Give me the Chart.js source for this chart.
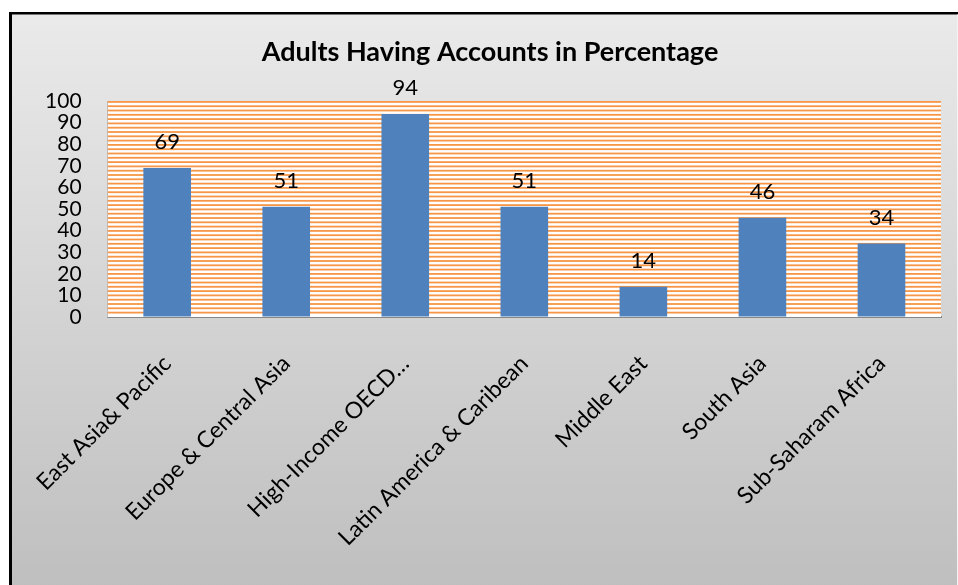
<!DOCTYPE html>
<html>
<head>
<meta charset="utf-8">
<title>Adults Having Accounts in Percentage</title>
<script src="https://cdn.jsdelivr.net/npm/chart.js@4/dist/chart.umd.min.js"></script>
<style>
  html, body { margin: 0; padding: 0; background: #ffffff; }
  #chart { display: block; }
</style>
</head>
<body>
<canvas id="chart" width="958" height="585"></canvas>
<script>
// Regions and the share of adults holding an account (%)
const regions = [
  'East Asia& Pacific',
  'Europe & Central Asia',
  'High-Income OECD\u2026',
  'Latin America & Caribean',
  'Middle East',
  'South Asia',
  'Sub-Saharam Africa'
];
const accountShare = [69, 51, 94, 51, 14, 46, 34];
const yTicks = [0, 10, 20, 30, 40, 50, 60, 70, 80, 90, 100];

const FONT = 'Lato, "Open Sans", "Liberation Sans", sans-serif';

// Grey gradient panel with a dark frame behind the whole chart
const panelBackground = {
  id: 'panelBackground',
  beforeDraw(chart) {
    const { ctx, width, height } = chart;
    ctx.save();
    ctx.fillStyle = '#ffffff';
    ctx.fillRect(0, 0, width, height);
    const g = ctx.createLinearGradient(0, 12, 0, height);
    g.addColorStop(0, '#eaeaea');
    g.addColorStop(1, '#bfbfbf');
    ctx.fillStyle = g;
    ctx.fillRect(9, 12, width - 9, height - 12);
    ctx.fillStyle = '#000000';
    ctx.fillRect(9, 12, width - 9, 2.5);
    ctx.fillRect(9, 12, 3, height - 12);
    ctx.fillStyle = '#f4f4f4';
    ctx.fillRect(width - 1, 14.5, 1, height - 14.5);
    ctx.restore();
  }
};

// Plot area filled with narrow orange horizontal stripes
const stripedPlot = {
  id: 'stripedPlot',
  beforeDatasetsDraw(chart) {
    const { ctx, chartArea: a } = chart;
    ctx.save();
    ctx.fillStyle = '#ffffff';
    ctx.fillRect(a.left, a.top, a.right - a.left, a.bottom - a.top);
    ctx.fillStyle = '#f79646';
    const step = 4.3;
    for (let y = a.top; y < a.bottom - 1; y += step) {
      ctx.fillRect(a.left, y, a.right - a.left, 1.8);
    }
    ctx.restore();
  }
};

// Value printed above each bar
const barValues = {
  id: 'barValues',
  afterDatasetsDraw(chart) {
    const { ctx } = chart;
    const meta = chart.getDatasetMeta(0);
    ctx.save();
    ctx.font = '22px ' + FONT;
    ctx.fillStyle = '#000000';
    ctx.textAlign = 'center';
    ctx.textBaseline = 'middle';
    meta.data.forEach((bar, i) => {
      ctx.fillText(String(accountShare[i]), bar.x, bar.y - 26);
    });
    ctx.restore();
  }
};

new Chart(document.getElementById('chart'), {
  type: 'bar',
  data: {
    labels: regions,
    datasets: [{
      data: accountShare,
      backgroundColor: '#4f81bd',
      borderWidth: 0,
      barPercentage: 0.4,
      categoryPercentage: 1.0
    }]
  },
  options: {
    responsive: false,
    animation: false,
    events: [],
    layout: { padding: { top: 14, left: 39, right: 17, bottom: 0 } },
    plugins: {
      legend: { display: false },
      tooltip: { enabled: false },
      title: {
        display: true,
        text: 'Adults Having Accounts in Percentage',
        color: '#000000',
        font: { family: FONT, size: 27, weight: 'bold', lineHeight: 1.2 },
        padding: { top: 21.8, bottom: 32.8 }
      }
    },
    scales: {
      x: {
        grid: { display: true, drawOnChartArea: false, drawTicks: false },
        border: { display: true, color: '#868686', width: 2 },
        ticks: {
          color: '#000000',
          font: { family: FONT, size: 23 },
          minRotation: 45,
          maxRotation: 45,
          autoSkip: false,
          padding: 33
        },
        afterFit(scale) { scale.height = 268; }
      },
      y: {
        min: 0,
        max: 100,
        grid: { display: true, drawOnChartArea: false, drawTicks: false },
        border: { display: true, color: '#9a9a9a', width: 1 },
        afterBuildTicks(scale) { scale.ticks = yTicks.map(v => ({ value: v })); },
        ticks: {
          color: '#000000',
          font: { family: FONT, size: 21 },
          padding: 26,
          autoSkip: false
        },
        afterFit(scale) { scale.width = 68; }
      }
    }
  },
  plugins: [panelBackground, stripedPlot, barValues]
});
</script>
</body>
</html>
